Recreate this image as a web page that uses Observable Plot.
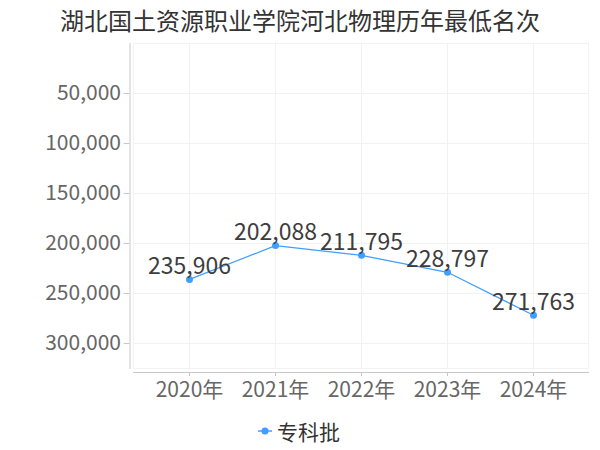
<!DOCTYPE html>
<html>
<head>
<meta charset="utf-8">
<script src="https://cdn.jsdelivr.net/npm/d3@7"></script>
<script src="https://cdn.jsdelivr.net/npm/@observablehq/plot@0.6"></script>
<style>
  html, body { margin: 0; padding: 0; background: #fff; }
  body { width: 600px; height: 450px; overflow: hidden; font-family: "Noto Sans CJK SC", sans-serif; }
  #title { height: 40px; line-height: 40px; text-align: center; font-size: 24px; color: #333; }
  #legend { display: flex; justify-content: center; align-items: center; height: 38px; font-size: 21px; color: #333; margin-left: -2px; }
  #legend svg { margin-right: 5px; }
</style>
</head>
<body>
<div id="title">湖北国土资源职业学院河北物理历年最低名次</div>
<div id="chart"></div>
<div id="legend"></div>
<script>
const years = ["2020年", "2021年", "2022年", "2023年", "2024年"];
const ranks = [235906, 202088, 211795, 228797, 271763];
const yTicks = [50000, 100000, 150000, 200000, 250000, 300000];
const seriesName = "专科批";
const lineColor = "#409eff";

const data = years.map((y, i) => ({year: y, rank: ranks[i]}));
const fmt = d3.format(",");

const chart = Plot.plot({
  width: 600,
  height: 372,
  marginTop: 3,
  marginBottom: 44,
  marginLeft: 133,
  marginRight: 12,
  style: {fontFamily: "'Noto Sans CJK SC', sans-serif", background: "#fff"},
  x: {type: "point", domain: years, padding: 0.62, label: null},
  y: {domain: [0, 325000], reverse: true, label: null},
  marks: [
    Plot.frame({stroke: "#f2f2f2"}),
    Plot.gridX({stroke: "#f2f2f2", strokeOpacity: 1}),
    Plot.gridY(yTicks, {stroke: "#f2f2f2", strokeOpacity: 1}),
    Plot.frame({anchor: "left", stroke: "#c8c8c8", dx: -3.5}),
    Plot.frame({anchor: "bottom", stroke: "#c8c8c8", dy: 4}),
    Plot.axisY(yTicks, {tickSize: 6, dx: -3.5, tickFormat: fmt, fontSize: 21, fill: "#666", stroke: "#c8c8c8", tickPadding: 3, label: null}),
    Plot.axisX({tickSize: 4, dy: 4, fontSize: 21, fill: "#666", stroke: "#c8c8c8", tickPadding: 6, label: null}),
    Plot.line(data, {x: "year", y: "rank", stroke: lineColor, strokeWidth: 1.2}),
    Plot.dot(data, {x: "year", y: "rank", r: 3.5, fill: lineColor}),
    Plot.text(data, {x: "year", y: "rank", text: d => fmt(d.rank), dy: -13, fontSize: 23, fill: "#3d3d3d"})
  ]
});
document.getElementById("chart").appendChild(chart);

const legend = document.getElementById("legend");
legend.innerHTML = `<svg width="14" height="10"><line x1="0" y1="5" x2="14" y2="5" stroke="${lineColor}" stroke-width="1.5"/><circle cx="7" cy="5" r="3.5" fill="${lineColor}"/></svg><span>${seriesName}</span>`;
</script>
</body>
</html>
